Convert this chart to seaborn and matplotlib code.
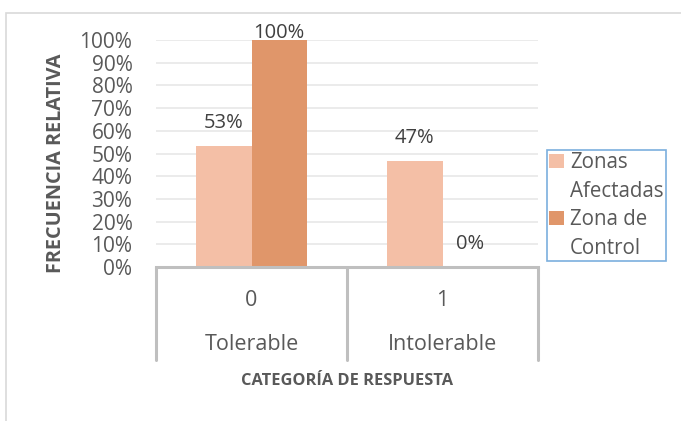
import pandas as pd
import matplotlib.pyplot as plt
import matplotlib.transforms as mtransforms
from matplotlib.patches import Rectangle, Patch
from matplotlib.ticker import PercentFormatter
import seaborn as sns

# Data
codes = ['0', '1']
categories = ['Tolerable', 'Intolerable']
series = ['Zonas Afectadas', 'Zona de Control']
zonas_afectadas = [0.5333, 0.4667]
zona_control = [1.0, 0.0]
colors = ['#f4bfa6', '#e0966a']

df = pd.DataFrame({
    'codigo': codes * 2,
    'serie': [series[0]] * 2 + [series[1]] * 2,
    'valor': zonas_afectadas + zona_control,
})

sns.set_theme(style='white')
plt.rcParams['font.family'] = ['Open Sans', 'DejaVu Sans']
gray = '#595959'

fig = plt.figure(figsize=(6.81, 4.21), dpi=100)
ax = fig.add_axes([156 / 681, 1 - 267 / 421, 382 / 681, 227 / 421])

# Outer chart frame
fig.patches.append(Rectangle((6 / 681, -0.1), 1.2, (421 - 13) / 421 + 0.1,
                             transform=fig.transFigure, fill=False,
                             edgecolor='#d9d9d9', linewidth=1.2, zorder=0))

sns.barplot(data=df, x='codigo', y='valor', hue='serie', ax=ax,
            palette=colors, width=0.58, saturation=1,
            linewidth=0, zorder=3, legend=False)

ax.set_ylim(0, 1)
ax.set_xlim(-0.5, 1.5)
ax.set_yticks([i / 10 for i in range(11)])
ax.yaxis.set_major_formatter(PercentFormatter(1.0, decimals=0))
ax.tick_params(axis='y', labelsize=15, labelcolor=gray, length=0, pad=17)
ax.grid(axis='y', color='#e8e8e8', linewidth=1.2, zorder=0)
for s in ['top', 'right', 'left']:
    ax.spines[s].set_visible(False)
ax.spines['bottom'].set_color('#bfbfbf')
ax.spines['bottom'].set_linewidth(2.2)
ax.spines['bottom'].set_zorder(4)
ax.set_xticks([])
ax.set_xlabel('')
ax.set_ylabel('FRECUENCIA RELATIVA', fontsize=14.3, fontweight='bold', color=gray)
ax.yaxis.set_label_coords(-0.235, 0.455)

# Value labels
for cont in ax.containers:
    for bar in cont:
        h = bar.get_height()
        pad = 1.5 if h > 0.9 else 13
        ax.annotate(f'{h:.0%}', (bar.get_x() + bar.get_width() / 2, h),
                    xytext=(0, pad), textcoords='offset points',
                    ha='center', va='baseline', fontsize=14.5, color='#404040')

# Multi-level category axis
trans = mtransforms.blended_transform_factory(ax.transData, ax.transAxes)
depth = -(360 - 267) / 227
for xb in [-0.5, 0.5, 1.5]:
    ax.plot([xb, xb], [0, depth], transform=trans, color='#bfbfbf',
            linewidth=2.2, clip_on=False)
for i, (c, lab) in enumerate(zip(codes, categories)):
    ax.text(i, -(300 - 267) / 227, c, transform=trans, ha='center',
            va='center', fontsize=15.5, color=gray)
    ax.text(i, -(345 - 267) / 227, lab, transform=trans, ha='center',
            va='center', fontsize=15.5, color=gray)
ax.text(0.5, -(381 - 267) / 227, 'CATEGORÍA DE RESPUESTA', transform=ax.transAxes,
        ha='center', va='center', fontsize=11.8, fontweight='bold', color=gray)

# Legend: each series name wraps onto two lines, marker on the first one
handles, labels = [], []
for name, col in zip(series, colors):
    first, second = name.rsplit(' ', 1)
    handles += [Patch(facecolor=col, edgecolor='none'), Patch(alpha=0)]
    labels += [first, second]
leg = ax.legend(handles, labels, loc='upper left',
                bbox_to_anchor=(547 / 681, 1 - 150 / 421),
                bbox_transform=fig.transFigure, frameon=True, fancybox=False,
                fontsize=14.8, handlelength=0.7, handleheight=0.7,
                handletextpad=0.3, labelspacing=0.36, borderpad=0.12,
                borderaxespad=0)
leg.get_frame().set_edgecolor('#5b9bd5')
leg.get_frame().set_linewidth(1.2)
for t in leg.get_texts():
    t.set_color(gray)

fig.savefig('out.png', dpi=100)
